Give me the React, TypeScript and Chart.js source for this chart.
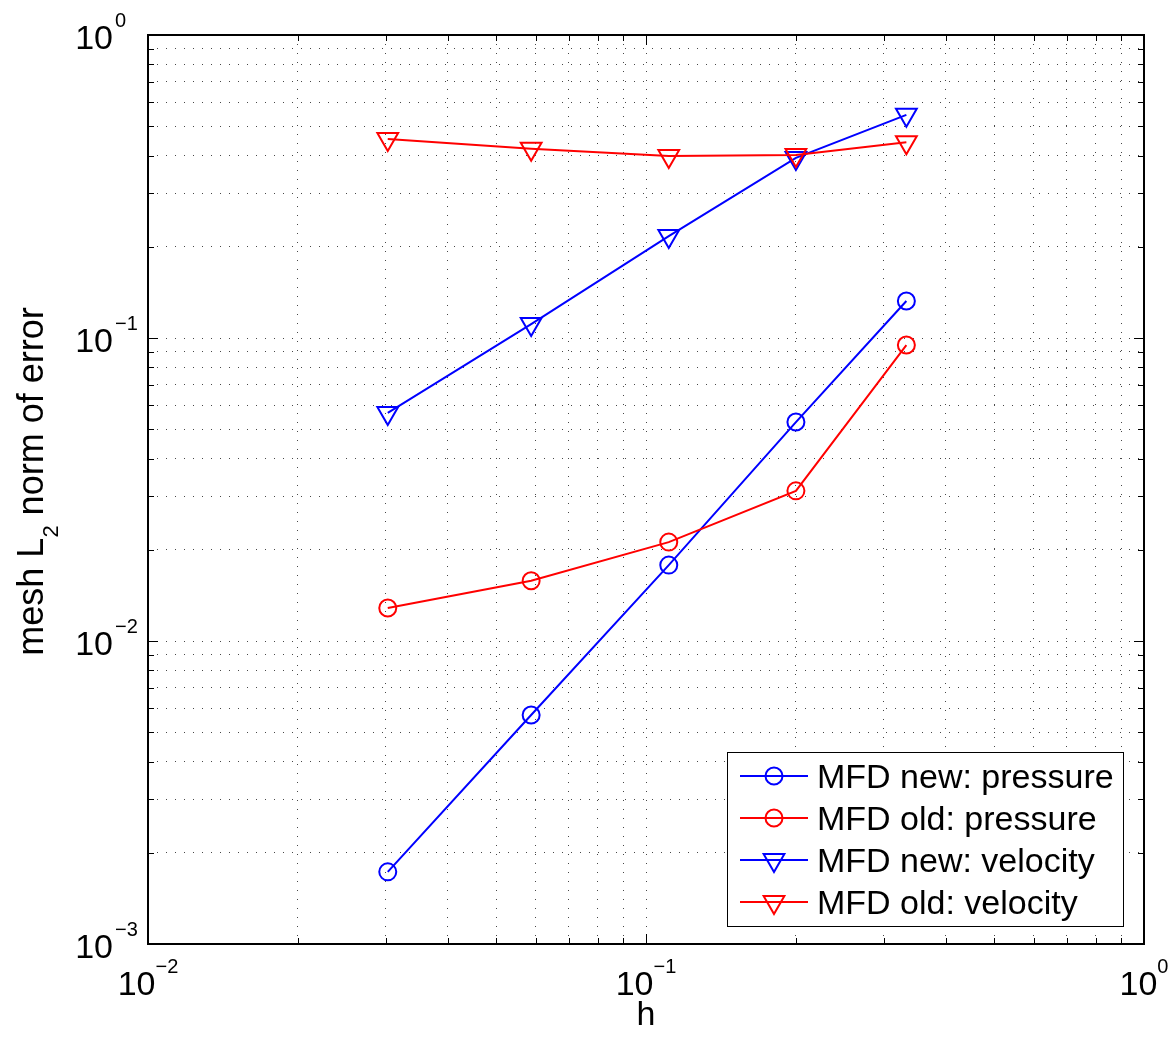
import React, { useEffect, useRef } from "react";
import { Chart, registerables } from "chart.js";

Chart.register(...registerables);

// ---- data ----
const hValues = [0.0303, 0.0588, 0.1111, 0.2, 0.3333];
const newPressure = [0.00173, 0.0057, 0.0178, 0.0528, 0.1325];
const oldPressure = [0.01285, 0.0158, 0.0212, 0.0313, 0.0948];
const newVelocity = [0.0566, 0.1112, 0.217, 0.393, 0.545];
const oldVelocity = [0.454, 0.421, 0.399, 0.402, 0.443];
const seriesLabels = [
  "MFD new: pressure",
  "MFD old: pressure",
  "MFD new: velocity",
  "MFD old: velocity",
];
const seriesColors = ["#0000ff", "#ff0000", "#0000ff", "#ff0000"];
const seriesMarkers = ["circle", "circle", "triangle", "triangle"];

const xDecades = [0.01, 0.1, 1];
const xExponents = ["\u22122", "\u22121", "0"];
const yDecades = [0.001, 0.01, 0.1, 1];
const yExponents = ["\u22123", "\u22122", "\u22121", "0"];
const minorMultipliers = [2, 3, 4, 5, 6, 7, 8, 9];

const xTitle = "h";
const yTitleParts = ["mesh L", "2", " norm of error"];

const FONT = "'Liberation Sans', Arial, Helvetica, sans-serif";

function buildTicks(decades: number[]) {
  const out: { value: number; major: boolean }[] = [];
  decades.forEach((d, i) => {
    out.push({ value: d, major: true });
    if (i < decades.length - 1) {
      minorMultipliers.forEach((m) => out.push({ value: d * m, major: false }));
    }
  });
  return out;
}

const xTicks = buildTicks(xDecades);
const yTicks = buildTicks(yDecades);

const decoPlugin = {
  id: "matlabDeco",
  afterDraw(chart: any) {
    const { ctx, chartArea, scales } = chart;
    const { left, right, top, bottom } = chartArea;
    const xs = scales.x;
    const ys = scales.y;
    ctx.save();

    // tick marks (inward, all four sides)
    ctx.strokeStyle = "#000";
    ctx.lineWidth = 1;
    ctx.beginPath();
    xTicks.forEach((t) => {
      const px = Math.round(xs.getPixelForValue(t.value)) + 0.5;
      const len = t.major ? 10 : 6;
      ctx.moveTo(px, bottom);
      ctx.lineTo(px, bottom - len);
      ctx.moveTo(px, top);
      ctx.lineTo(px, top + len);
    });
    yTicks.forEach((t) => {
      const py = Math.round(ys.getPixelForValue(t.value)) + 0.5;
      const len = t.major ? 10 : 6;
      ctx.moveTo(left, py);
      ctx.lineTo(left + len, py);
      ctx.moveTo(right, py);
      ctx.lineTo(right - len, py);
    });
    ctx.stroke();

    // axes box
    ctx.lineWidth = 2;
    ctx.strokeRect(left, top, right - left, bottom - top);

    // tick labels
    ctx.fillStyle = "#000";
    ctx.textBaseline = "alphabetic";
    const baseFont = `34px ${FONT}`;
    const expFont = `20px ${FONT}`;
    xDecades.forEach((d, i) => {
      const px = xs.getPixelForValue(d);
      ctx.font = baseFont;
      const wb = ctx.measureText("10").width;
      ctx.font = expFont;
      const we = ctx.measureText(xExponents[i]).width;
      const start = px - (wb + we) / 2;
      ctx.font = baseFont;
      ctx.textAlign = "left";
      ctx.fillText("10", start, bottom + 51);
      ctx.font = expFont;
      ctx.fillText(xExponents[i], start + wb, bottom + 29);
    });
    yDecades.forEach((d, i) => {
      const py = ys.getPixelForValue(d);
      ctx.font = baseFont;
      ctx.textAlign = "right";
      ctx.fillText("10", left - 35, py + 14);
      ctx.font = expFont;
      ctx.textAlign = "left";
      ctx.fillText(yExponents[i], left - 33, py - 8);
    });

    // x title
    ctx.font = `34px ${FONT}`;
    ctx.textAlign = "center";
    ctx.fillText(xTitle, (left + right) / 2, bottom + 81);

    // y title (rotated, with subscript)
    const mainFont = `36px ${FONT}`;
    const subFont = `22px ${FONT}`;
    ctx.font = mainFont;
    const w0 = ctx.measureText(yTitleParts[0]).width;
    const w2 = ctx.measureText(yTitleParts[2]).width;
    ctx.font = subFont;
    const w1 = ctx.measureText(yTitleParts[1]).width;
    const total = w0 + w1 + w2;
    ctx.save();
    ctx.translate(43, (top + bottom) / 2 - 8);
    ctx.rotate(-Math.PI / 2);
    ctx.textAlign = "left";
    let cx = -total / 2;
    ctx.font = mainFont;
    ctx.fillText(yTitleParts[0], cx, 0);
    cx += w0;
    ctx.font = subFont;
    ctx.fillText(yTitleParts[1], cx, 15);
    cx += w1;
    ctx.font = mainFont;
    ctx.fillText(yTitleParts[2], cx, 0);
    ctx.restore();

    // legend
    const lx0 = right - 417;
    const lx1 = right - 21;
    const ly0 = bottom - 192;
    const ly1 = bottom - 18;
    ctx.fillStyle = "#fff";
    ctx.fillRect(lx0, ly0, lx1 - lx0, ly1 - ly0);
    ctx.strokeStyle = "#000";
    ctx.lineWidth = 1;
    ctx.strokeRect(lx0 + 0.5, ly0 + 0.5, lx1 - lx0, ly1 - ly0);
    seriesLabels.forEach((lab, i) => {
      const yc = ly0 + 24 + i * 42;
      const color = seriesColors[i];
      ctx.strokeStyle = color;
      ctx.lineWidth = 2;
      ctx.beginPath();
      ctx.moveTo(lx0 + 13, yc);
      ctx.lineTo(lx0 + 81, yc);
      ctx.stroke();
      const mx = lx0 + 47;
      ctx.beginPath();
      if (seriesMarkers[i] === "circle") {
        ctx.arc(mx, yc, 8.5, 0, Math.PI * 2);
      } else {
        const r = 12;
        ctx.moveTo(mx, yc + r);
        ctx.lineTo(mx - r * Math.sin(Math.PI / 3), yc - r / 2);
        ctx.lineTo(mx + r * Math.sin(Math.PI / 3), yc - r / 2);
        ctx.closePath();
      }
      ctx.stroke();
      ctx.fillStyle = "#000";
      ctx.font = `34px ${FONT}`;
      ctx.textAlign = "left";
      ctx.fillText(lab, lx0 + 90, yc + 12);
    });

    ctx.restore();
  },
};

export default function App() {
  const canvasRef = useRef<HTMLCanvasElement | null>(null);

  useEffect(() => {
    const canvas = canvasRef.current;
    if (!canvas) return;
    const seriesValues = [newPressure, oldPressure, newVelocity, oldVelocity];
    const datasets = seriesValues.map((vals, i) => ({
      label: seriesLabels[i],
      data: hValues.map((h, j) => ({ x: h, y: vals[j] })),
      borderColor: seriesColors[i],
      backgroundColor: "rgba(0,0,0,0)",
      borderWidth: 2,
      pointStyle: seriesMarkers[i],
      pointRotation: seriesMarkers[i] === "triangle" ? 180 : 0,
      pointRadius: seriesMarkers[i] === "triangle" ? 12 : 8.5,
      pointBorderWidth: 2,
      pointBorderColor: seriesColors[i],
      pointBackgroundColor: "rgba(0,0,0,0)",
      tension: 0,
      fill: false,
      order: 3 - i,
      clip: false,
    }));

    const gridOpts = {
      color: "rgba(40,40,40,0.85)",
      lineWidth: 1,
      drawTicks: false,
    };

    const chart = new Chart(canvas, {
      type: "line",
      data: { datasets: datasets as any },
      options: {
        animation: false,
        responsive: false,
        maintainAspectRatio: false,
        layout: { padding: { left: 148, right: 32, top: 35, bottom: 93 } },
        plugins: {
          legend: { display: false },
          tooltip: { enabled: false },
        },
        scales: {
          x: {
            type: "logarithmic",
            min: 0.01,
            max: 1,
            grid: gridOpts,
            border: { display: false, dash: [1, 8] },
            ticks: { display: false },
            afterBuildTicks: (scale: any) => {
              scale.ticks = xTicks.map((t) => ({ value: t.value, major: t.major }));
            },
            afterFit: (scale: any) => {
              scale.height = 0;
            },
          },
          y: {
            type: "logarithmic",
            min: 0.001,
            max: 1,
            grid: gridOpts,
            border: { display: false, dash: [1, 8] },
            ticks: { display: false },
            afterBuildTicks: (scale: any) => {
              scale.ticks = yTicks.map((t) => ({ value: t.value, major: t.major }));
            },
            afterFit: (scale: any) => {
              scale.width = 0;
            },
          },
        },
      } as any,
      plugins: [decoPlugin],
    });
    return () => chart.destroy();
  }, []);

  return (
    <div
      style={{
        position: "absolute",
        left: 0,
        top: 0,
        width: 1176,
        height: 1037,
        background: "#fff",
      }}
    >
      <canvas
        ref={canvasRef}
        width={1176}
        height={1037}
        style={{ display: "block", width: 1176, height: 1037 }}
      />
    </div>
  );
}
